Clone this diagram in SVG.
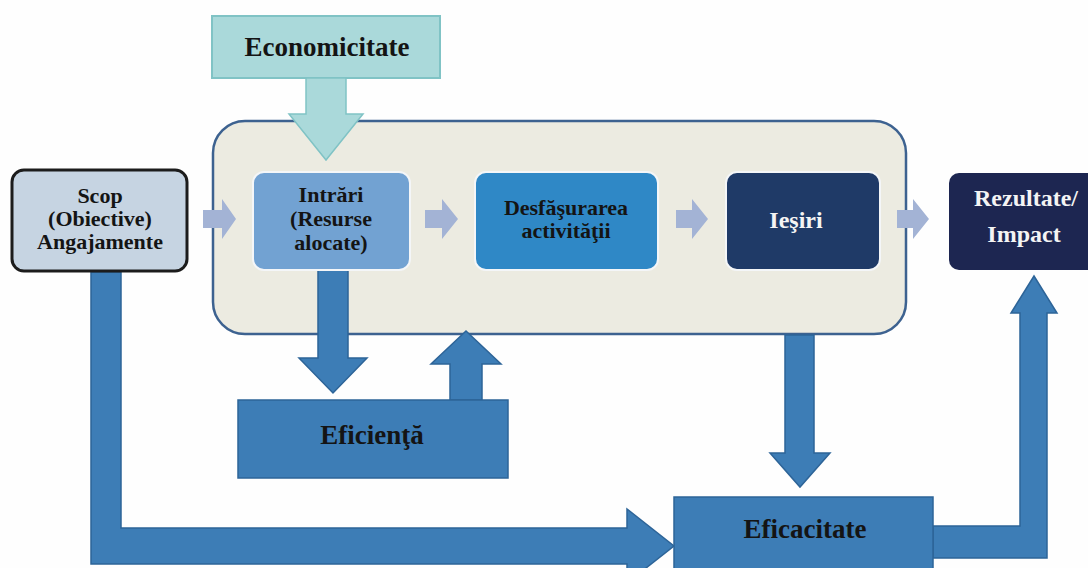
<svg xmlns="http://www.w3.org/2000/svg" width="1088" height="568" viewBox="0 0 1088 568">
<defs>
<style>
text{font-weight:bold;text-anchor:middle}
.dark{fill:#141414}
.light{fill:#f4f4f4}
.big{font-size:27px}
.mid{font-size:22px}
.blue{fill:#3d7db6;stroke:#2d6498;stroke-width:1.5}
.small{fill:#a3b3d5}
</style>
</defs>
<rect width="1088" height="568" fill="#fefefe"/>
<g font-family="Liberation Serif, DejaVu Serif, serif">
<g id="container">
<rect x="213" y="121" width="693" height="213" rx="32" fill="#ecebe1" stroke="#3d6290" stroke-width="2.5"/>
</g>
<g id="economicitate">
<rect x="212" y="16" width="228" height="62" fill="#aad9da" stroke="#80c3c5" stroke-width="2"/>
<path d="M306,78 L346,78 L346,114 L363,114 L326,160 L289,114 L306,114 Z" fill="#aad9da" stroke="#80c3c5" stroke-width="1.5"/>
<text class="dark big" x="327" y="56">Economicitate</text>
</g>
<g id="connectors">
<path class="small" d="M203,210 L222,210 L222,199 L236,219 L222,239 L222,228 L203,228 Z"/>
<path class="small" d="M425,210 L442,210 L442,199 L458,219 L442,239 L442,228 L425,228 Z"/>
<path class="small" d="M676,210 L692,210 L692,199 L708,219 L692,239 L692,228 L676,228 Z"/>
<path class="small" d="M897,210 L913,210 L913,199 L929,219 L913,239 L913,228 L897,228 Z"/>
<path class="blue" d="M318,270 L348,270 L348,358 L367,358 L333,393 L299,358 L318,358 Z"/>
<path class="blue" d="M450,400 L482,400 L482,364 L501,364 L466,331 L431,364 L450,364 Z"/>
<path class="blue" d="M91,272 L121,272 L121,528 L627,528 L627,509 L674,546 L627,583 L627,564 L91,564 Z"/>
<path class="blue" d="M785,335 L814,335 L814,453 L830,453 L800,487 L770,453 L785,453 Z"/>
<path class="blue" d="M933,526 L1020,526 L1020,313 L1011,313 L1034,276 L1057,313 L1047,313 L1047,558 L933,558 Z"/>
</g>
<g id="scop">
<rect x="12" y="170" width="175" height="101" rx="12" fill="#c6d4e2" stroke="#1c1c1c" stroke-width="3"/>
<text class="dark mid" x="100" y="203">Scop</text>
<text class="dark mid" x="100" y="226">(Obiective)</text>
<text class="dark mid" x="100" y="249">Angajamente</text>
</g>
<g id="intrari">
<rect x="253" y="172" width="157" height="98" rx="11" fill="#72a2d2" stroke="#f4f6f8" stroke-width="2"/>
<text class="dark mid" x="331" y="202">Intrări</text>
<text class="dark mid" x="331" y="226">(Resurse</text>
<text class="dark mid" x="331" y="250">alocate)</text>
</g>
<g id="desfasurarea">
<rect x="475" y="172" width="183" height="98" rx="11" fill="#2f88c6" stroke="#f4f6f8" stroke-width="2"/>
<text class="dark mid" x="566" y="215">Desfăşurarea</text>
<text class="dark mid" x="566" y="238">activităţii</text>
</g>
<g id="iesiri">
<rect x="726" y="172" width="154" height="98" rx="11" fill="#1f3a67" stroke="#f4f6f8" stroke-width="2"/>
<text class="light" x="796" y="228" font-size="24">Ieşiri</text>
</g>
<g id="rezultate">
<rect x="949" y="173" width="150" height="97" rx="10" fill="#1d2651"/>
<text class="light" x="1026" y="206" font-size="24">Rezultate/</text>
<text class="light" x="1024" y="242" font-size="24">Impact</text>
</g>
<g id="eficienta">
<rect class="blue" x="238" y="400" width="270" height="78"/>
<text class="dark big" x="372" y="444">Eficienţă</text>
</g>
<g id="eficacitate">
<rect class="blue" x="674" y="497" width="259" height="80"/>
<text class="dark big" x="805" y="538">Eficacitate</text>
</g>
</g>
</svg>
